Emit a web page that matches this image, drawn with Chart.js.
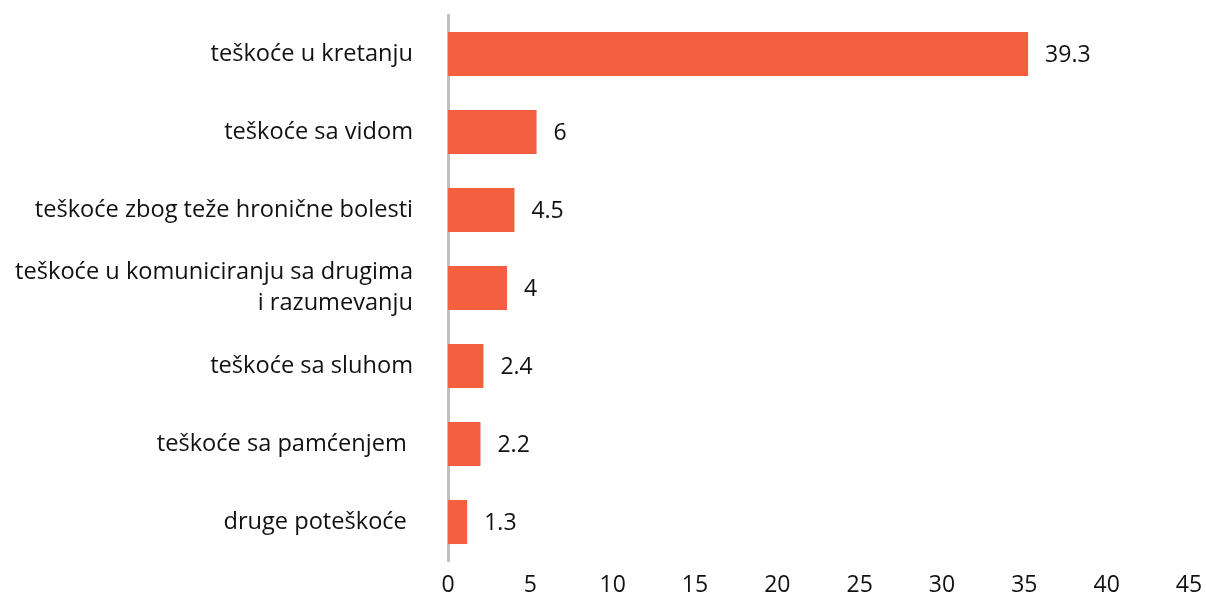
<!DOCTYPE html>
<html>
<head>
<meta charset="utf-8">
<script src="https://cdn.jsdelivr.net/npm/chart.js@4/dist/chart.umd.min.js"></script>
<style>
  html, body { margin: 0; padding: 0; background: #fff; }
  #wrap { width: 1206px; height: 601px; }
</style>
</head>
<body>
<div id="wrap"><canvas id="barChart" width="1206" height="601"></canvas></div>
<script>
// kategorije (odozgo nadole)
const categories = [
  "teškoće u kretanju",
  "teškoće sa vidom",
  "teškoće zbog teže hronične bolesti",
  ["teškoće u komuniciranju sa drugima", "i razumevanju"],
  "teškoće sa sluhom",
  "teškoće sa pamćenjem ",
  "druge poteškoće "
];
const values = [39.3, 6, 4.5, 4, 2.4, 2.2, 1.3];
const tickValues = [0, 5, 10, 15, 20, 25, 30, 35, 40, 45];

// u originalu su trake skalirane drugačije od ose (39.3 završava kod 35)
const barScaleMax = 50.2;

const FONT = "'Open Sans', 'Noto Sans', sans-serif";
const TEXT = "#111";

// vrednosti desno od traka
const valueLabels = {
  id: "valueLabels",
  afterDatasetsDraw(chart) {
    const ctx = chart.ctx;
    const meta = chart.getDatasetMeta(0);
    ctx.save();
    ctx.font = "23px " + FONT;
    ctx.fillStyle = TEXT;
    ctx.textAlign = "left";
    ctx.textBaseline = "middle";
    meta.data.forEach((bar, i) => {
      ctx.fillText(String(values[i]), bar.x + 17, bar.y + 1);
    });
    ctx.restore();
  }
};

new Chart(document.getElementById("barChart"), {
  type: "bar",
  data: {
    labels: categories,
    datasets: [{
      data: values,
      xAxisID: "x2",
      backgroundColor: "#f2603f",
      categoryPercentage: 1,
      barPercentage: 0.565
    }]
  },
  options: {
    indexAxis: "y",
    responsive: false,
    animation: false,
    layout: { padding: { top: 15, right: 17, bottom: 0, left: 0 } },
    plugins: {
      legend: { display: false },
      tooltip: { enabled: false }
    },
    scales: {
      y: {
        grid: { drawOnChartArea: false, drawTicks: false },
        border: { display: true, color: "#bfbfbf", width: 3 },
        ticks: {
          color: TEXT,
          padding: 35,
          font: { family: FONT, size: 23.6, lineHeight: 1.32 }
        },
        afterFit(scale) {
          scale.width = 448;
          scale.paddingTop = 0;
          scale.paddingBottom = 0;
        }
      },
      x: {
        type: "linear",
        min: 0,
        max: 45,
        grid: { display: false, drawTicks: false },
        border: { display: false },
        ticks: {
          stepSize: 5,
          color: TEXT,
          padding: 11,
          font: { family: FONT, size: 23 },
          callback: (v) => tickValues.includes(v) ? v : ""
        },
        afterFit(scale) {
          scale.height = 40;
          scale.paddingLeft = 0;
          scale.paddingRight = 0;
        }
      },
      x2: {
        type: "linear",
        axis: "x",
        position: "bottom",
        display: false,
        min: 0,
        max: barScaleMax
      }
    }
  },
  plugins: [valueLabels]
});
</script>
</body>
</html>
